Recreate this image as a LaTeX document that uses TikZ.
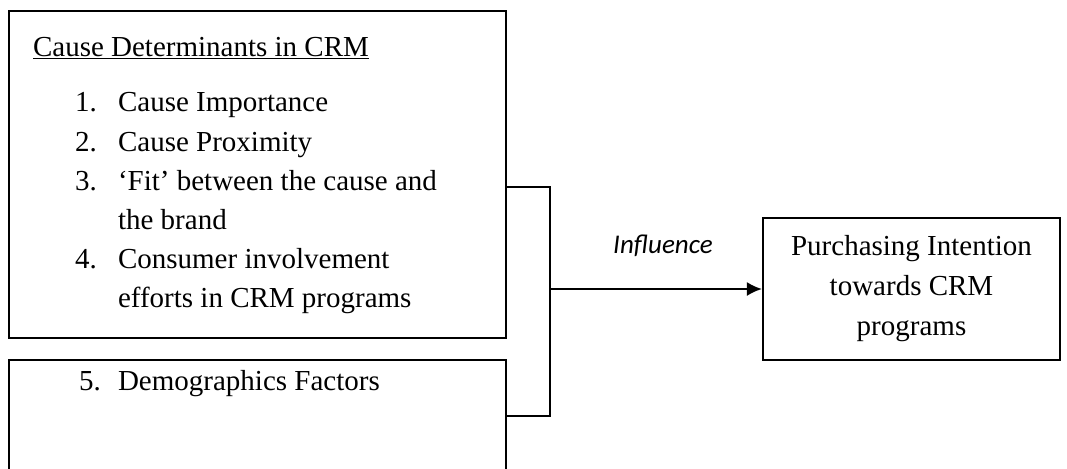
\documentclass[tikz,border=0pt]{standalone}
\usepackage{fontspec}
\setmainfont{Liberation Serif}
\newfontfamily\calibfont{Carlito}
\usetikzlibrary{arrows.meta}
\begin{document}
\begin{tikzpicture}[x=1pt, y=-1pt, line width=2.1pt,
		box/.style = {draw, inner sep=0pt},
		item/.style = {anchor=base west, inner sep=0pt, font=\fontsize{29}{39}\selectfont}]
		\useasboundingbox (0,0) rectangle (1067,468);
		\clip (0,0) rectangle (1067,468);
		\node[box, minimum width=497pt, minimum height=327pt] (cause) at (257.5,174.5) {};
		\node[box, minimum width=497pt, minimum height=120pt] (demog) at (257.5,420) {};
		\node[box, minimum width=297pt, minimum height=142pt, align=center, font=\fontsize{29}{40}\selectfont] (intent) at (911.5,289) {Purchasing Intention\\towards CRM\\programs};
		\node[item] (title) at (32,57) {\underline{Cause Determinants in CRM}};
		\node[item] (n1) at (74,112) {1.};
		\node[item] (t1) at (117,112) {Cause Importance};
		\node[item] (n2) at (74,151) {2.};
		\node[item] (t2) at (117,151) {Cause Proximity};
		\node[item] (n3) at (74,190) {3.};
		\node[item] (t3) at (117,190) {`Fit' between the cause and};
		\node[item] (t3b) at (117,229) {the brand};
		\node[item] (n4) at (74,268) {4.};
		\node[item] (t4) at (117,268) {Consumer involvement};
		\node[item] (t4b) at (117,307) {efforts in CRM programs};
		\node[item] (n5) at (78,390) {5.};
		\node[item] (t5) at (117,390) {Demographics Factors};
		\node[inner sep=0pt, anchor=base, font=\calibfont\itshape\fontsize{27}{32}\selectfont] (infl) at (663,253) {Influence};
		\coordinate (top) at (550,187);
		\coordinate (bot) at (550,416);
		\draw (cause.east |- top) -- (top) -- (bot) -- (demog.east |- bot);
		\draw[-{Latex[length=15pt, width=14pt]}] (top |- intent.west) -- (intent.west);
	\end{tikzpicture}
\end{document}
